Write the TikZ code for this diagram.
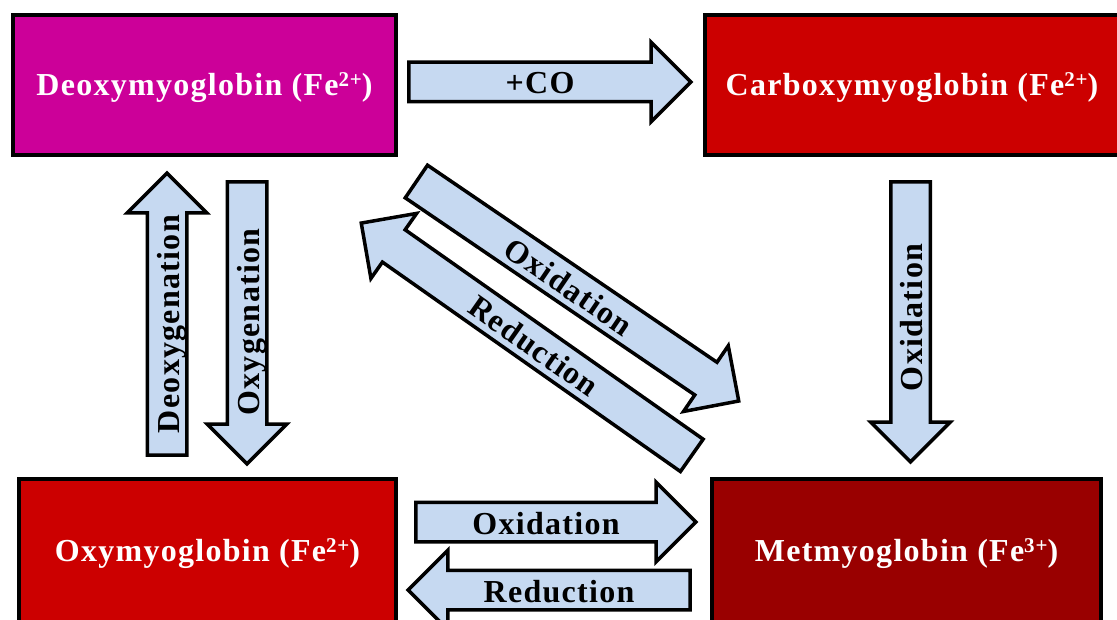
\documentclass[tikz,border=0pt]{standalone}
\usepackage{fontspec}
\setmainfont{Liberation Serif}
\newfontfamily\lsfont[LetterSpace=4]{Liberation Serif}
\usetikzlibrary{shapes.arrows}
\definecolor{deoxy}{HTML}{CC0099}
\definecolor{oxyred}{HTML}{CC0000}
\definecolor{metred}{HTML}{990000}
\definecolor{arrowblue}{HTML}{C6D9F1}
\newcommand{\supch}[1]{\raisebox{9pt}{\fontsize{21}{21}\selectfont #1}}
\begin{document}
\begin{tikzpicture}[x=1pt,y=-1pt,
  statebox/.style={draw=black, line width=4pt, inner sep=0pt, text=white,
    font=\lsfont\bfseries\fontsize{32}{38}\selectfont, text height=21pt, text depth=0pt},
  blockarrow/.style={single arrow, draw=black, line width=3.5pt, fill=arrowblue,
    inner ysep=0pt, inner xsep=0pt, text height=30pt, text depth=6pt,
    single arrow head extend=20pt, font=\lsfont\bfseries\fontsize{32}{38}\selectfont}]
\useasboundingbox (0,0) rectangle (1117,620);
% state boxes
\node[statebox, fill=deoxy, minimum width=383pt, minimum height=140pt] (deoxy) at (204.5,85) {Deoxymyoglobin (Fe\supch{2+})};
\node[statebox, fill=oxyred, minimum width=414pt, minimum height=140pt] (carboxy) at (912,85) {Carboxymyoglobin (Fe\supch{2+})};
\node[statebox, fill=oxyred, minimum width=377pt, minimum height=144pt] (oxy) at (207.5,551) {Oxymyoglobin (Fe\supch{2+})};
\node[statebox, fill=metred, minimum width=389pt, minimum height=144pt] (met) at (906.5,551) {Metmyoglobin (Fe\supch{3+})};
% block arrows
\node[blockarrow, minimum height=282pt] (co) at (540,82) {+CO};
\node[blockarrow, rotate=90, minimum height=282pt] (deoxygenation) at (167,324) {Deoxygenation};
\node[blockarrow, rotate=90, shape border rotate=180, minimum height=282pt] (oxygenation) at (247,313) {Oxygenation\kern18pt};
\node[blockarrow, rotate=90, shape border rotate=180, minimum height=280pt] (oxcarb) at (910.5,312) {Oxidation\kern11pt};
\node[blockarrow, minimum height=280pt] (oxbottom) at (546,522) {Oxidation};
\node[blockarrow, shape border rotate=180, minimum height=282pt] (redbottom) at (559,590) {Reduction};
\node[blockarrow, rotate=-34.25, minimum height=390pt] (oxdiag) at (569.4,285.7) {Oxidation};
\node[blockarrow, rotate=-35.1, shape border rotate=180, minimum height=404pt] (reddiag) at (534.6,344.9) {Reduction};
\end{tikzpicture}
\end{document}
